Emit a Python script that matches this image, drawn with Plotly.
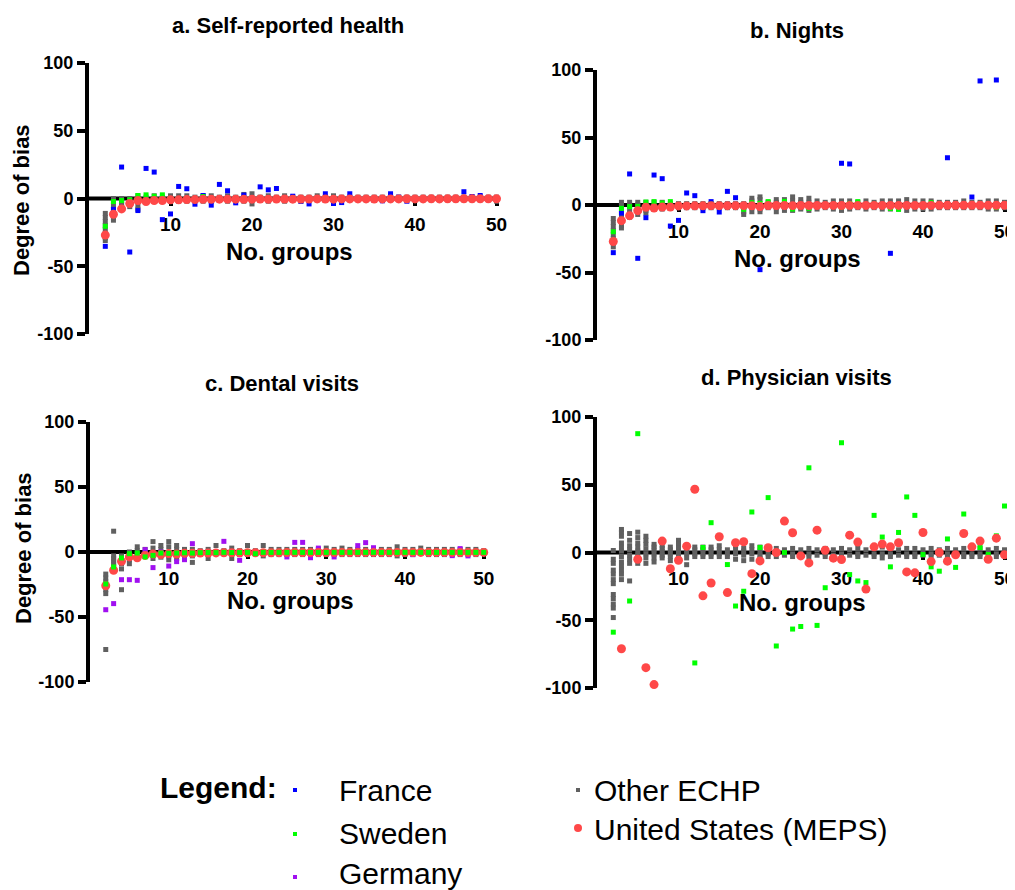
import plotly.graph_objects as go

W, H = 1015, 890
OFF = 8  # page body margin of the browser
FONT = "Liberation Sans, Arial, sans-serif"

groups = list(range(2, 51))
y_ticks = [-100, -50, 0, 50, 100]
y_tick_text = ["-100", "-50", "0", "50", "100"]
x_ticks = [10, 20, 30, 40, 50]

# ---------- a. Self-reported health ----------
france_a = [-35.3, -8, 23.2, -39.5, -8.9, 22.2, 19.5, -15.6, -11.4, 8.9,
            7.2, -4.2, 2.2, -4.9, 10.4, 5.7, -3.2, 2.5, 0, 8.6,
            6.4, 7.4, 0, 1.7, -2, -4, 0, 3.5, -3.7, -3,
            3.5, 0, 0, -1.5, -1.7, 3.5, 1, -2, 0, 0,
            0, 0, 0, 0, 5, 1.5, 2.2, 0.5, 0]
sweden_a = [-20.5, -2.2, -1.5, -1, 2.2, 2.7, 1.7, 2.7, 0, 0,
            0, 0, 1.5, -1.5, 0, -1.5, 0, 0, 0, 0.5,
            0, 0, 0, 0, 0, 0, 0, 0, 0, 0,
            0, 0, 0, 0, 0, 0, 0, 0, 0, 0,
            0, 0, 0, 0, 0, 0, 0, 0, 0]
us_a = [-27, -11.6, -7.7, -3.7, -1.5, -2.2, -1.5, -1.5, -1, -1,
        -0.8, -0.8, -0.6, -0.6, -0.5, -0.5, -0.5, -0.6, -0.5, -0.4,
        -0.5, -0.4, -0.4, -0.5, -0.4, -0.4, -0.3, -0.4, -0.5, -0.3,
        -0.3, -0.3, -0.3, -0.4, -0.3, -0.3, -0.3, -0.2, -0.3, -0.3,
        -0.2, -0.3, -0.2, -0.2, -0.2, -0.2, -0.2, -0.2, -0.2]
other_a = [[-11, -14, -17, -20, -23, -26, -29, -31], [0, -2, -5, -8, -11, -14, -16],
           [0, -2, -4, -6, -8], [0, -2, -4, -6], [2, 0, -2, -5, -8], [1, -1, -3],
           [2, 0, -2], [1, -1, -2], [2, -1, -2], [2, -2], [2, -2], [1, -1], [2, -2],
           [2, -2], [1, -1], [2, -2], [1, -1], [3, -2], [3.5, -4], [1, -1], [2, -2],
           [1, -1], [2, -2], [1, -1], [1, -2], [1, -1], [2, -1], [1, -1], [2, -2],
           [1, -1], [1, -1], [1, -1], [1, -1], [1, -1], [1, -1], [2, -1], [1, -1],
           [1, -1], [1, -1], [1, -1], [1, -1], [1, -1], [1, -1], [1, -1], [1, -1],
           [1, -1], [1, -1], [1, -1], [1, -2]]

# ---------- b. Nights ----------
france_b = [-35.3, -6, 23, -39.5, -9.4, 22.2, 19.5, -15.6, -11.4, 8.9,
            6.9, -4.2, 2.5, -5.2, 10.1, 5.4, 0, 0, -47.9, 0,
            0, 0, 0, 0, 0, 0, 0, 0, 30.9, 30.4,
            0, 0, 0, 0, -35.8, 0, 0, 0, 0, 0,
            0, 35, 0, 0, 5.9, 91.9, 0, 92.6, 0]
sweden_b = [-19.8, -2.5, -1.2, -1, 2.2, 2.5, 1.5, 2.5, 0, 0,
            0, 0, 0.5, -1, 0, 0, -3.2, 1.7, 1.2, 2.5,
            0, 2.7, -3, 0, -2.5, 0, 0, 0, -1.5, 1,
            2.5, 0, 0.5, 0, -2.5, -3.2, 0, 0, 0, 1.7,
            0, 0, 0, 0, 0, 0, 0, -1.7, 0]
us_b = [-27, -11.6, -7.9, -4.2, -1.7, -2.2, -1.5, -1.5, -0.7, -0.7,
        -0.6, -0.6, -0.5, -0.5, -0.5, -0.5, -0.5, -0.6, -1.2, -0.4,
        -0.4, -0.4, -0.5, -0.4, -0.4, -0.4, -0.3, -0.3, -0.4, -0.3,
        -0.3, -0.3, -0.3, -0.3, -0.3, -0.3, -0.3, -0.3, -0.3, -0.3,
        -0.2, -0.2, -0.2, -0.2, -0.2, -0.2, -0.2, -0.2, -0.2]
other_b = [[-10, -13, -16, -19, -22, -25, -28, -31], [2, 0, -3, -6, -9, -12, -15, -17],
           [2, 0, -3, -6, -9], [2, 0, -3, -5, -7], [2, 0, -2, -4, -6], [2, -1, -3],
           [2, -1, -3], [1, -1, -2], [1, -1, -2], [1, -1, -2], [1, -1, -2], [1, -1, -2],
           [1, -1, -2], [1, -1, -2], [1, -1, -2], [1, -1, -2], [1, -2, -5, -7],
           [5, 3, -2, -5], [6, 4, -3, -5], [2, -2], [4, 2, -2, -5], [4, 2, -2, -4],
           [6, 3, -2, -4], [4, 2, -2, -3], [5, 2, -2, -4], [3, -3], [2, -2], [3, -3],
           [3, -4], [3, -3], [2, -2], [3, -3], [2, -2], [3, -3], [3, -3], [3, -3],
           [4, -4], [3, -3], [3, -3], [3, -3], [2, -2], [2, -2], [2, -2], [3, -2],
           [2, -2], [2, -2], [3, -3], [3, -3], [2, -2]]

# ---------- c. Dental visits ----------
germany_c = [-44.4, -39.7, -21.3, -21.3, -21.8, 1.8, -12, 0, -10.8, -7.4,
             -5.9, 6.4, 0, 0, 0, 8.2, 0, -6.4, 0, 0,
             0, 0, 0, -3.8, 7.4, 7.4, -4.4, 3, 0, -3.8,
             0, 0, 4.9, 7.2, 3.3, 0, 0, 0, 0, -2,
             0, 0, 0, 0, -2.8, 2.6, -3, 0, 0]
sweden_c = [-24.6, -11.5, -4.6, -1.3, -0.8, -3.8, -2.6, -0.8, -1, -0.8,
            -0.6, -0.8, -0.5, -0.4, -0.5, -0.3, -0.4, -0.4, -0.3, -1.3,
            -0.3, -0.3, -0.3, -0.3, -0.3, -0.3, -0.3, -0.3, -0.3, -0.3,
            -0.3, -0.3, -0.3, -0.3, -0.3, -0.3, -0.3, -0.3, -0.3, -0.3,
            -0.3, -0.3, -0.3, -0.3, -0.3, -0.3, -0.3, -0.3, -0.3]
us_c = [-26, -14, -7.2, -3.8, -4.4, -2.6, -1.5, -2, -1.2, -1.5,
        -1, -1, -0.8, -0.8, -0.7, -0.6, -0.6, -0.6, -0.5, -0.6,
        -0.5, -0.5, -0.5, -0.4, -0.4, -0.4, -0.4, -0.4, -0.4, -0.4,
        -0.3, -0.3, -0.3, -0.3, -0.3, -0.3, -0.3, -0.3, -0.3, -0.3,
        -0.3, -0.3, -0.3, -0.3, -0.3, -0.3, -0.3, -0.3, -0.3]
other_c = [[-17, -20, -23, -26, -29, -32, -75], [16, -3, -5, -7, -9, -11],
           [-3, -6, -9, -13, -29], [0, -3, -6, -9], [4, 1, -2, -4], [2, -1],
           [8, 3, -2, -5], [5, 2, -2, -4], [8, 4, -3, -6], [5, 2, -2, -5],
           [2, -2, -4], [2, -3, -8], [1, -1], [2, -5], [5, -1], [1, -1], [3, -5],
           [1, -2], [5, -2], [1, -1], [5, -3], [2, -2], [2, -2], [2, -2], [2, -2],
           [2, -2], [2, -2], [2, -2], [3, -2], [2, -2], [3, -2], [2, -2], [2, -2],
           [2, -2], [2, -2], [2, -2], [2, -2], [4, -3], [2, -2], [2, -2], [3, -1],
           [2, -2], [2, -2], [2, -2], [2, -2], [2, -2], [2, -2], [2, -2], [1, -1]]

# ---------- d. Physician visits ----------
sweden_d = [-58.8, None, -35.8, 87.7, None, None, None, None, None, None,
            -81.5, 3.7, 22, None, -8.9, -39.5, -28.6, 29.9, 3.7, 40.5,
            -69, 0, -56.5, -54.6, 62.5, -53.8, -26, None, 81, -16.3,
            -21, -22.2, 27.4, 11.4, -10.6, 14.8, 41, 27.4, -1.5, -10.6,
            -13.8, 10, -11, 28.4, None, 3.7, -1.5, 12.3, 34.3]
us_d = [None, -71, None, -5, -85, -97.5, 8.4, -12, -5.7, 4.7,
        46.7, -32, -22.5, 11.6, -29.6, 7.2, 7.9, -15.6, -6.2, 3.5,
        0, 23.2, 14.6, -2.5, -7.7, 16.5, 1.7, -4.2, -5.2, 12.8,
        7.7, -27, 4.2, 6.2, 4.2, 7.2, -14.3, -15, 14.8, -6.7,
        0, -6.4, -1.7, 14, 4.2, 8.4, -5, 10.6, -1.7]
other_d = [[1.5, -5, -8, -13, -16, -20, -23, -31, -34, -38, -41, -48],
           [17, 15, 12, 7, 4, 1, -3, -7, -10, -13, -16, -20],
           [14, 9, 5, 2, -2, -5, -8, -21], [15, 11, 7, 4, 1, -2, -5, -8],
           [12, 9, 6, 2.5, -1, -4, -8], [6, 4, 2, -1, -4, -7], [5, 3, 1, -2, -4],
           [4, 2, -1, -3, -6], [9, 6, 3, 0, -3], [4, 2, -1, -4, -9], [4, 2, -1, -3],
           [4, 2, -1, -3], [4, 2, -1, -3], [5, 2, -1, -3], [2, -1, -3], [5, 2, -1, -5],
           [3, 1, -2, -6], [5, 2, -1, -5], [4, 1, -2, -4], [3, -1, -3], [3, -1, -3],
           [2, -2], [3, -1, -3], [2, -2], [3, -1, -3], [2, -2],
           [3, -1, -3], [2, -2], [3, -1, -3], [2, -2], [3, -1, -3],
           [2, -2], [3, -1, -3], [4, -1, -4], [3, -1, -3], [2, -2],
           [3, -1, -3], [3, -1, -3], [2, -2], [3, -1, -3], [2, -2],
           [3, -1, -3], [2, -2], [3, -1, -3], [4, -1, -3], [3, -1, -3],
           [2, -2], [3, -1, -3], [2, -2]]

panel_titles = ["a. Self-reported health", "b. Nights", "c. Dental visits", "d. Physician visits"]
x_title = "No. groups"
y_title = "Degree of bias"
legend_names = ["France", "Sweden", "Germany", "Other ECHP", "United States (MEPS)"]

C_FRANCE = "#0000FF"
C_SWEDEN = "#00FF00"
C_GERMANY = "#A010F0"
C_OTHER = "#606060"
C_US = "#FF4848"

X_END = 50.4      # where the zero line ends
X_VIEW = 51.6     # axis range end (room for the last tick label)


def fx(px):
    return (px - OFF) / W


def fy(py):
    return 1 - (py - OFF) / H


# panel boxes in pixels: left (x=0), px per unit, top (100), bottom (-100)
boxes = {
    1: (89, 8.15, 63, 334),
    2: (597, 8.15, 70, 340),
    3: (90, 7.875, 422, 682),
    4: (597, 8.15, 417, 688),
}


def flat(lists):
    xs, ys = [], []
    for g, vals in zip(groups, lists):
        for v in vals:
            xs.append(g)
            ys.append(v)
    return xs, ys


fig = go.Figure()


def ax_ids(k):
    return ("x" if k == 1 else f"x{k}"), ("y" if k == 1 else f"y{k}")


def add_sq(k, ys, color, name, size=5):
    xa, ya = ax_ids(k)
    fig.add_trace(go.Scatter(x=groups, y=ys, mode="markers", name=name,
                             marker=dict(symbol="square", size=size, color=color, line=dict(width=0)),
                             xaxis=xa, yaxis=ya, cliponaxis=False, showlegend=False))


def add_other(k, lists):
    xs, ys = flat(lists)
    xa, ya = ax_ids(k)
    fig.add_trace(go.Scatter(x=xs, y=ys, mode="markers", name="Other ECHP",
                             marker=dict(symbol="square", size=5, color=C_OTHER, line=dict(width=0)),
                             xaxis=xa, yaxis=ya, cliponaxis=False, showlegend=False))


def add_us(k, ys):
    xa, ya = ax_ids(k)
    fig.add_trace(go.Scatter(x=groups, y=ys, mode="markers", name="United States (MEPS)",
                             marker=dict(symbol="circle", size=9, color=C_US, line=dict(width=0)),
                             xaxis=xa, yaxis=ya, cliponaxis=False, showlegend=False))


# panel a
add_other(1, other_a)
add_sq(1, france_a, C_FRANCE, "France")
add_sq(1, sweden_a, C_SWEDEN, "Sweden")
add_us(1, us_a)
# panel b
add_other(2, other_b)
add_sq(2, france_b, C_FRANCE, "France")
add_sq(2, sweden_b, C_SWEDEN, "Sweden")
add_us(2, us_b)
# panel c
add_other(3, other_c)
add_sq(3, germany_c, C_GERMANY, "Germany")
add_us(3, us_c)
add_sq(3, sweden_c, C_SWEDEN, "Sweden")
# panel d
add_other(4, other_d)
add_sq(4, sweden_d, C_SWEDEN, "Sweden")
add_us(4, us_d)

layout = dict(width=W, height=H, margin=dict(l=0, r=0, t=0, b=0, pad=0, autoexpand=False),
              template="none",
              paper_bgcolor="white", plot_bgcolor="rgba(0,0,0,0)", showlegend=False,
              font=dict(family=FONT, color="black"))

shapes = []
for k, (l, ppu, t, b) in boxes.items():
    xs = "xaxis" if k == 1 else f"xaxis{k}"
    ys = "yaxis" if k == 1 else f"yaxis{k}"
    xid, yid = ax_ids(k)
    r = l + X_VIEW * ppu
    layout[ys] = dict(domain=[fy(b), fy(t)], range=[-100, 100], anchor=xid, automargin=False,
                      tickvals=y_ticks, ticktext=y_tick_text, ticks="outside", ticklen=8,
                      tickwidth=4, tickcolor="black",
                      showline=True, linewidth=4, linecolor="black", showgrid=False,
                      zeroline=False,
                      tickfont=dict(family=FONT, size=18, color="black", weight="bold"))
    layout[xs] = dict(domain=[fx(l), min(fx(r), 1.0)], range=[0, X_VIEW], anchor="free", automargin=False,
                      position=fy((t + b) / 2), tickvals=x_ticks, ticks="outside",
                      ticklen=6, tickwidth=4, tickcolor="black", showline=False,
                      showgrid=False, zeroline=False, layer="below traces",
                      ticklabelstandoff=3,
                      tickfont=dict(family=FONT, size=19, color="black", weight="bold"))
    # the zero line of each panel, drawn under the points
    shapes.append(dict(type="line", xref=xid, yref=yid, x0=0, x1=X_END, y0=0, y1=0,
                       line=dict(color="black", width=4), layer="below"))

fig.update_layout(**layout)

ann = []
title_pos = [(288, 25), (797, 30), (282, 384), (796, 377)]
for txt, (px, py) in zip(panel_titles, title_pos):
    ann.append(dict(text=f"<b>{txt}</b>", x=fx(px), y=fy(py), xref="paper", yref="paper",
                    xanchor="center", yanchor="middle", showarrow=False,
                    font=dict(family=FONT, size=22, color="black")))
for px, py in [(289, 252), (797, 258), (290, 600), (802, 602)]:
    ann.append(dict(text=f"<b>{x_title}</b>", x=fx(px), y=fy(py), xref="paper", yref="paper",
                    xanchor="center", yanchor="middle", showarrow=False,
                    font=dict(family=FONT, size=24, color="black")))
for px, py in [(22, 200), (23, 548)]:
    ann.append(dict(text=f"<b>{y_title}</b>", x=fx(px), y=fy(py), xref="paper", yref="paper",
                    xanchor="center", yanchor="middle", showarrow=False, textangle=-90,
                    font=dict(family=FONT, size=22, color="black")))

# legend
ann.append(dict(text="<b>Legend:</b>", x=fx(158), y=fy(787), xref="paper", yref="paper",
                xanchor="left", yanchor="middle", showarrow=False,
                font=dict(family=FONT, size=30, color="black")))
leg_text_pos = [(337, 790), (337, 833), (337, 873), (592, 790), (592, 829)]
for name, (px, py) in zip(legend_names, leg_text_pos):
    ann.append(dict(text=name, x=fx(px), y=fy(py), xref="paper", yref="paper",
                    xanchor="left", yanchor="middle", showarrow=False,
                    font=dict(family=FONT, size=30, color="black")))

leg_marks = [(295, 790, C_FRANCE, "rect", 2), (295, 834, C_SWEDEN, "rect", 2),
             (295, 877, C_GERMANY, "rect", 2), (578, 790, C_OTHER, "rect", 2),
             (578, 828, C_US, "circle", 4)]
for px, py, col, typ, rr in leg_marks:
    shapes.append(dict(type=typ, xref="paper", yref="paper",
                       x0=fx(px - rr), x1=fx(px + rr), y0=fy(py + rr), y1=fy(py - rr),
                       fillcolor=col, line=dict(width=0)))

fig.update_layout(annotations=ann, shapes=shapes)
fig.write_html("out.html")
